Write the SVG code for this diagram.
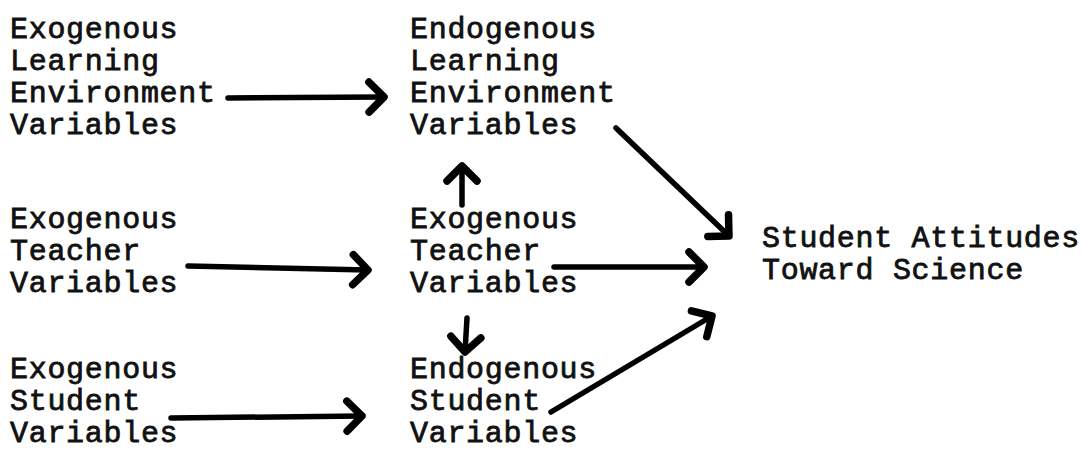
<svg xmlns="http://www.w3.org/2000/svg" width="1082" height="457" viewBox="0 0 1082 457">
<defs>
<style>
text{font-family:"Liberation Mono","Courier New",monospace;font-size:30px;fill:#111;letter-spacing:0.7px;stroke:#111;stroke-width:0.8px}
.c{fill:none;stroke:#000;stroke-width:5.5;stroke-linecap:round;stroke-linejoin:round}
</style>
<marker id="ah" markerUnits="userSpaceOnUse" markerWidth="30" markerHeight="30" refX="2" refY="12" viewBox="0 0 24 24" orient="auto" overflow="visible">
<path d="M-10,0 L2,12 L-10,24" fill="none" stroke="#000" stroke-width="6" stroke-linecap="round" stroke-linejoin="round"/>
</marker>
</defs>
<rect width="1082" height="457" fill="#fff"/>
<g id="exo-learning-env">
<text x="10" y="38">Exogenous</text>
<text x="10" y="70">Learning</text>
<text x="10" y="102">Environment</text>
<text x="10" y="134">Variables</text>
</g>
<g id="endo-learning-env">
<text x="410" y="38">Endogenous</text>
<text x="410" y="70">Learning</text>
<text x="410" y="102">Environment</text>
<text x="410" y="134">Variables</text>
</g>
<g id="exo-teacher">
<text x="10" y="228">Exogenous</text>
<text x="10" y="260">Teacher</text>
<text x="10" y="292">Variables</text>
</g>
<g id="exo-teacher-mid">
<text x="410" y="228">Exogenous</text>
<text x="410" y="260">Teacher</text>
<text x="410" y="292">Variables</text>
</g>
<g id="exo-student">
<text x="10" y="378">Exogenous</text>
<text x="10" y="410">Student</text>
<text x="10" y="442">Variables</text>
</g>
<g id="endo-student">
<text x="410" y="378">Endogenous</text>
<text x="410" y="410">Student</text>
<text x="410" y="442">Variables</text>
</g>
<g id="student-attitudes">
<text x="762" y="247">Student Attitudes</text>
<text x="762" y="279">Toward Science</text>
</g>
<g id="connectors">
<path class="c" d="M228,98 L384,97" marker-end="url(#ah)"/>
<path class="c" d="M616,128 L729,236" marker-end="url(#ah)"/>
<path class="c" d="M188,266 L368,270" marker-end="url(#ah)"/>
<path class="c" d="M462,205 L462,166" marker-end="url(#ah)"/>
<path class="c" d="M554,267 L704,267" marker-end="url(#ah)"/>
<path class="c" d="M467,318 L465,352" marker-end="url(#ah)"/>
<path class="c" d="M171,418 L362,416" marker-end="url(#ah)"/>
<path class="c" d="M551,412 L712,316" marker-end="url(#ah)"/>
</g>
</svg>
